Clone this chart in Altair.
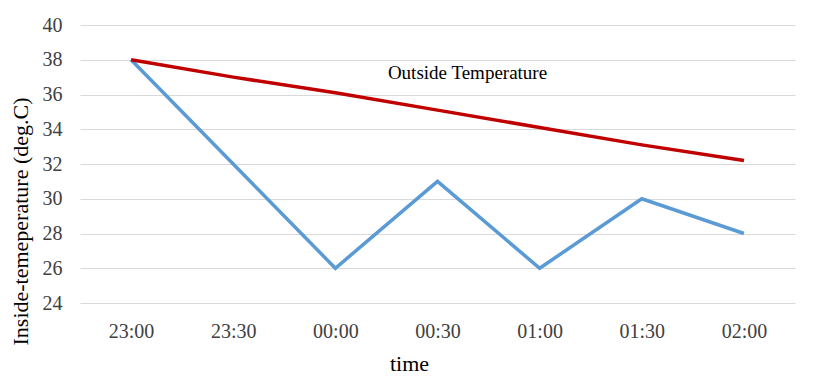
import altair as alt
import pandas as pd

times = ["23:00", "23:30", "00:00", "00:30", "01:00", "01:30", "02:00"]
inside = [38, 32, 26, 31, 26, 30, 28]
outside = [38, 37.0, 36.1, 35.1, 34.1, 33.1, 32.2]
y_ticks = [24, 26, 28, 30, 32, 34, 36, 38, 40]

df = pd.DataFrame({
    "time": times * 2,
    "temp": inside + outside,
    "series": ["Inside"] * len(times) + ["Outside"] * len(times),
})

FONT = "Liberation Serif"

xscale = alt.Scale(type="point", padding=0.5, domain=times)
yscale = alt.Scale(domain=[24, 40], nice=False, zero=False)
xaxis = alt.Axis(labelAngle=0, labelPadding=18, titlePadding=12, titleX=329,
                 ticks=False, domain=False, grid=False,
                 labelFont=FONT, labelFontSize=20, labelColor="#404040",
                 titleFont=FONT, titleFontSize=22, titleFontWeight="normal",
                 titleColor="#000000")
yaxis = alt.Axis(values=y_ticks, ticks=False, domain=False,
                 labelPadding=18, titlePadding=10, titleY=196,
                 gridColor="#d9d9d9",
                 labelOverlap=False, labelFlush=False,
                 labelFont=FONT, labelFontSize=20, labelColor="#404040",
                 titleFont=FONT, titleFontSize=22, titleFontWeight="normal",
                 titleColor="#000000")

x = alt.X("time:N", title="time", scale=xscale, axis=xaxis)
y = alt.Y("temp:Q", title="Inside-temeperature (deg.C)", scale=yscale, axis=yaxis)

lines = alt.Chart(df).mark_line(strokeWidth=3.5).encode(
    x=x, y=y,
    color=alt.Color("series:N", legend=None,
                    scale=alt.Scale(domain=["Inside", "Outside"],
                                    range=["#5B9BD5", "#C00000"])),
)

label = alt.Chart(pd.DataFrame({"time": ["00:30"], "temp": [37.25], "txt": ["Outside Temperature"]})).mark_text(
    font=FONT, fontSize=19, dx=30, color="#000000"
).encode(x=x, y=y, text="txt:N")

chart = alt.layer(lines, label).properties(
    width=715, height=278,
    background="white",
    autosize=alt.AutoSizeParams(type="none"),
    padding={"left": 72, "top": 17, "right": 10, "bottom": 76},
).configure_view(stroke=None)

chart.save("out.html", embed_options={"renderer": "svg", "actions": False})
